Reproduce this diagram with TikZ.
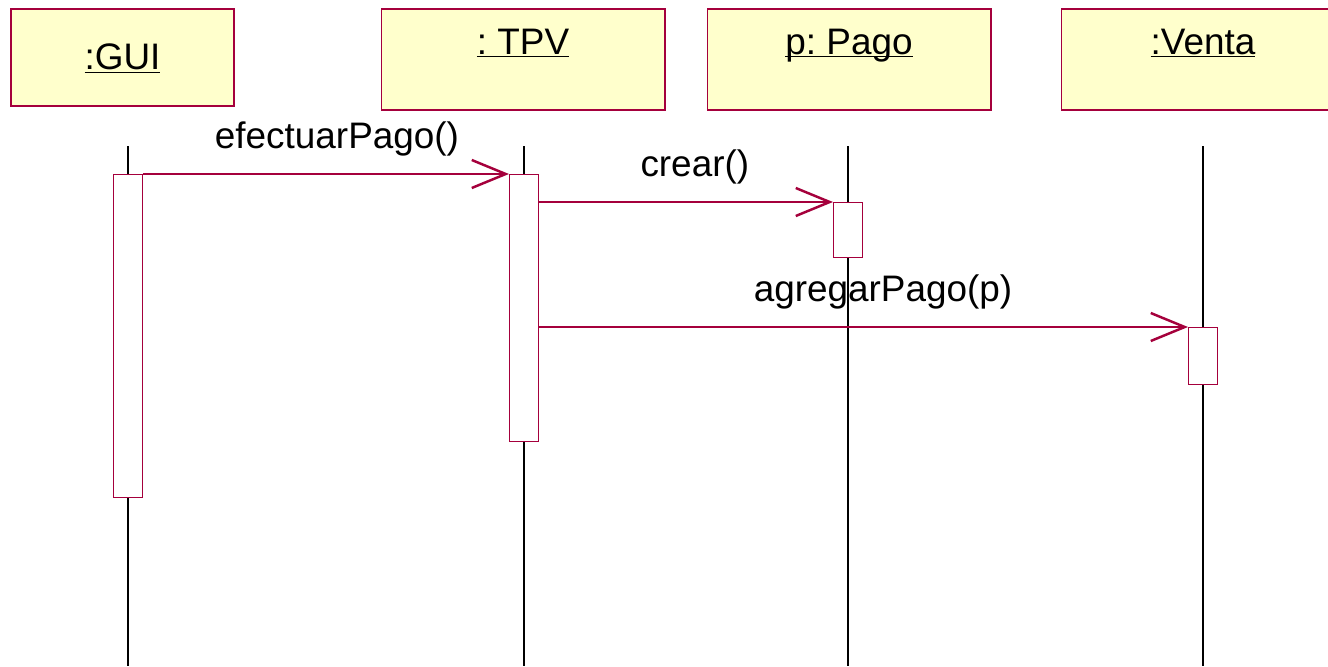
\documentclass[tikz,border=0pt]{standalone}
\usepackage{fontspec}
\setmainfont{Liberation Sans}
\usepackage{tikz}
\usetikzlibrary{arrows.meta,calc}
\definecolor{umlred}{RGB}{165,0,60}
\definecolor{umlyellow}{RGB}{255,255,204}
\frenchspacing

\begin{document}
\begin{tikzpicture}[
        x=0.02cm, y=-0.02cm,
        obj/.style={draw=umlred, fill=umlyellow, line width=0.6pt, inner sep=0pt, minimum width=5.68cm, text height=0.9cm, text depth=1.12cm, font=\fontsize{21}{25}\selectfont},
        act/.style={draw=umlred, fill=white, line width=0.6pt, inner sep=0pt, minimum width=0.58cm, anchor=north},
        lifeline/.style={draw=black, line width=0.6pt},
        msg/.style={draw=umlred, line width=0.6pt, -{Straight Barb[length=0.68cm, width=0.56cm, line width=1.4pt]}},
        lbl/.style={pos=0.53, anchor=base, yshift=0.52cm, font=\fontsize{21}{25}\selectfont}
    ]
        \clip (0,0) rectangle (1328,666);
        \fill[white] (0,0) rectangle (1328,666);

        % Objects
        \node[obj, minimum width=4.46cm, text height=1.22cm, text depth=0.72cm] (gui) at (122.5,57.5) {\underline{\smash{:GUI}}};
        \node[obj] (tpv) at (523,59.5) {\underline{\smash{: TPV}}};
        \node[obj] (pago) at (849,59.5) {\underline{\smash{p: Pago}}};
        \node[obj] (venta) at (1203,59.5) {\underline{\smash{:Venta}}};

        % Lifelines
        \coordinate (guitop) at (128,146);   \coordinate (guibot) at (128,666);
        \coordinate (tpvtop) at (524,146);   \coordinate (tpvbot) at (524,666);
        \coordinate (pagotop) at (848,146);  \coordinate (pagobot) at (848,666);
        \coordinate (ventatop) at (1203,146); \coordinate (ventabot) at (1203,666);
        \draw[lifeline] (guitop) -- (guibot);
        \draw[lifeline] (tpvtop) -- (tpvbot);
        \draw[lifeline] (pagotop) -- (pagobot);
        \draw[lifeline] (ventatop) -- (ventabot);

        % Activations
        \node[act, minimum height=6.46cm] (guiact) at (128,174) {};
        \node[act, minimum height=5.34cm] (tpvact) at (524,174) {};
        \node[act, minimum height=1.1cm] (pagoact) at (848,202) {};
        \node[act, minimum height=1.14cm] (ventaact) at (1203,327) {};

        % Messages
        \draw[msg] (guiact.north east) -- node[lbl] {efectuarPago()} (tpvact.north west);
        \draw[msg] (tpvact.east |- pagoact.north) -- node[lbl] {crear()} (pagoact.north west);
        \draw[msg] (tpvact.east |- ventaact.north) -- node[lbl] {agregarPago(p)} (ventaact.north west);
    \end{tikzpicture}
\end{document}
